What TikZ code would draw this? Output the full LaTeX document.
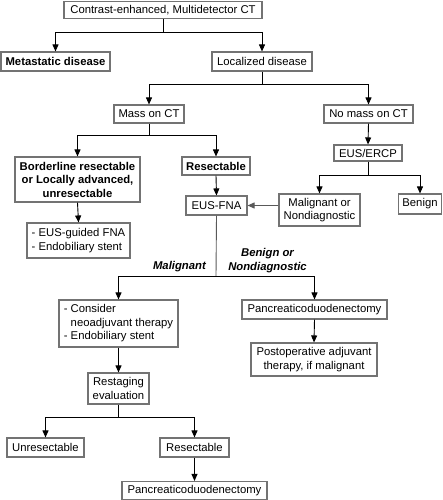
\documentclass[tikz,border=0pt]{standalone}
\usepackage{fontspec}
\setmainfont{Liberation Sans}
\usetikzlibrary{arrows.meta}
\definecolor{boxgray}{gray}{0.45}
\definecolor{linegray}{gray}{0.35}
\begin{document}
\begin{tikzpicture}[x=1pt,y=-1pt,
  txt/.style={font=\fontsize{11.3}{13.5}\selectfont},
  box/.style={txt, draw=boxgray, line width=1.1pt, inner sep=0pt, align=center},
  lbox/.style={txt, draw=boxgray, line width=1.1pt, inner sep=0pt, align=left},
  bbox/.style={box, font=\fontsize{11.3}{13.5}\selectfont\bfseries},
  lab/.style={font=\fontsize{11.3}{13.5}\selectfont\bfseries\itshape, inner sep=0pt, align=center},
  conn/.style={draw=black, line width=0.9pt},
  arr/.style={conn, -{Triangle[width=6pt,length=7pt]}},
  garr/.style={arr, draw=linegray, fill=linegray},
]
\useasboundingbox (0,0) rectangle (442,500);

% boxes
\node[box, minimum width=198pt, minimum height=17pt] (top) at (163,10) {Contrast-enhanced, Multidetector CT};
\node[bbox, minimum width=109pt, minimum height=19pt] (meta) at (55.5,61.5) {Metastatic disease};
\node[box, minimum width=100pt, minimum height=19pt] (loc) at (262,61.5) {Localized disease};
\node[box, minimum width=70pt, minimum height=18pt] (mass) at (149,114) {Mass on CT};
\node[box, minimum width=89pt, minimum height=18pt] (nomass) at (368.5,114) {No mass on CT};
\node[bbox, minimum width=125pt, minimum height=45pt] (border) at (77.5,179.5) {Borderline resectable\\or Locally advanced,\\unresectable};
\node[bbox, minimum width=68pt, minimum height=18pt] (resect) at (216,166) {Resectable};
\node[box, minimum width=61pt, minimum height=19pt] (eusfna) at (216.5,205.5) {EUS-FNA};
\node[box, minimum width=68pt, minimum height=16pt] (eusercp) at (368,153) {EUS/ERCP};
\node[box, minimum width=81pt, minimum height=32pt] (malnd) at (319.5,210) {Malignant or\\Nondiagnostic};
\node[box, minimum width=43pt, minimum height=20pt] (benign) at (420,204) {Benign};
\node[lbox, minimum width=103pt, minimum height=35pt] (list1) at (78.5,240.5) {- EUS-guided FNA\\- Endobiliary stent};
\node[lbox, minimum width=119pt, minimum height=47pt] (consider) at (118.5,323.5) {- Consider\\\hphantom{- }neoadjuvant therapy\\- Endobiliary stent};
\node[box, minimum width=145pt, minimum height=19pt] (panc1) at (314.5,309.5) {Pancreaticoduodenectomy};
\node[box, minimum width=126pt, minimum height=33pt] (postop) at (314,359.5) {Postoperative adjuvant\\therapy, if malignant};
\node[box, minimum width=61pt, minimum height=31pt] (restag) at (118.5,388.5) {Restaging\\evaluation};
\node[box, minimum width=77pt, minimum height=19pt] (unres) at (45.5,447.5) {Unresectable};
\node[box, minimum width=69pt, minimum height=19pt] (resect2) at (194.5,447.5) {Resectable};
\node[box, minimum width=145pt, minimum height=18pt] (panc2) at (194.5,490.5) {Pancreaticoduodenectomy};

% labels
\node[lab, anchor=east] (lmal) at (206,267) {Malignant};
\node[lab] (lben) at (267.5,260.5) {Benign or\\Nondiagnostic};

% junctions
\coordinate (j1) at (163,32);
\coordinate (j2) at (262,84);
\coordinate (j3) at (149,135);
\coordinate (j4) at (368,175);
\coordinate (j5) at (216,276);
\coordinate (j6) at (118.5,417);

% connectors
\draw[conn] (top.south) -- (j1);
\draw[arr] (j1) -| (meta.north);
\draw[arr] (j1) -| (loc.north);
\draw[conn] (loc.south) -- (j2);
\draw[arr] (j2) -| (mass.north);
\draw[arr] (j2) -| (nomass.north);
\draw[conn] (mass.south) -- (j3);
\draw[arr] (j3) -| (border.north);
\draw[arr] (j3) -| (resect.north);
\draw[arr] (resect.south) -- (eusfna.north);
\draw[arr] (border.south) -- (list1.north);
\draw[arr] (nomass.south) -- (eusercp.north);
\draw[conn] (eusercp.south) -- (j4);
\draw[arr] (j4) -| (malnd.north);
\draw[arr] (j4) -| (benign.north);
\draw[garr] (malnd.west |- eusfna.east) -- (eusfna.east);
\draw[conn, draw=linegray] (eusfna.south) -- (j5);
\draw[arr] (j5) -| (consider.north);
\draw[arr] (j5) -| (panc1.north);
\draw[arr] (panc1.south) -- (postop.north);
\draw[arr] (consider.south) -- (restag.north);
\draw[conn] (restag.south) -- (j6);
\draw[arr] (j6) -| (unres.north);
\draw[arr] (j6) -| (resect2.north);
\draw[arr] (resect2.south) -- (panc2.north);
\end{tikzpicture}
\end{document}
